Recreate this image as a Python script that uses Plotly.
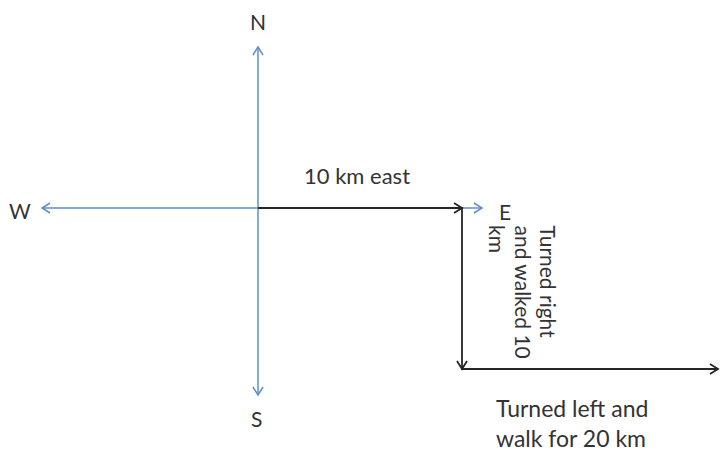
import math
import plotly.graph_objects as go

# ---- data (diagram coordinates, pixel-like units, y grows downward) ----
compass_labels = ["N", "S", "W", "E"]
compass_x = [258, 256, 20, 505]
compass_y = [21, 418, 210, 211]

ns_axis_x = [258, 258]
ns_axis_y = [47, 395]
we_axis_x = [42, 482]
we_axis_y = [208, 208]

path_x = [258, 462, 462, 718]
path_y = [208, 208, 369, 369]

east_label = "10 km east"
right_turn_lines = ["Turned right", "and walked 10", "km"]
left_turn_label = "Turned left and<br>walk for 20 km"

BLUE = "#5E8FC9"
BLACK = "#262626"
TEXT = "#333333"
FONT = "Lato"

fig = go.Figure()


def chevron(x0, y0, x1, y1, length=8, half=5):
    dx, dy = x1 - x0, y1 - y0
    d = math.hypot(dx, dy)
    ux, uy = dx / d, dy / d
    px, py = -uy, ux
    bx, by = x1 - ux * length, y1 - uy * length
    return ([bx + px * half, x1, bx - px * half], [by + py * half, y1, by - py * half])


def add_line(xs, ys, color, width):
    fig.add_trace(go.Scatter(x=xs, y=ys, mode="lines",
                             line=dict(color=color, width=width),
                             hoverinfo="skip", showlegend=False))


# compass axes (double-headed)
for xs, ys in [(ns_axis_x, ns_axis_y), (we_axis_x, we_axis_y)]:
    add_line(xs, ys, BLUE, 1.5)
    cx, cy = chevron(xs[0], ys[0], xs[1], ys[1])
    add_line(cx, cy, BLUE, 1.5)
    cx, cy = chevron(xs[1], ys[1], xs[0], ys[0])
    add_line(cx, cy, BLUE, 1.5)

# walking path
add_line(path_x, path_y, BLACK, 1.8)
for i in range(len(path_x) - 1):
    cx, cy = chevron(path_x[i], path_y[i], path_x[i + 1], path_y[i + 1])
    add_line(cx, cy, BLACK, 1.8)

# compass labels
for lab, x, y in zip(compass_labels, compass_x, compass_y):
    fig.add_annotation(x=x, y=y, text=lab, showarrow=False,
                       font=dict(family=FONT, size=21, color=TEXT),
                       xanchor="center", yanchor="middle")

# leg labels
fig.add_annotation(x=357, y=175, text=east_label, showarrow=False,
                   font=dict(family=FONT, size=22, color=TEXT),
                   xanchor="center", yanchor="middle")
for i, line in enumerate(right_turn_lines):
    fig.add_annotation(x=548 - 25 * i, y=223, text=line, showarrow=False,
                       textangle=90,
                       font=dict(family=FONT, size=21, color=TEXT),
                       xanchor="center", yanchor="top")
fig.add_annotation(x=494, y=423, text=left_turn_label, showarrow=False,
                   align="left",
                   font=dict(family=FONT, size=23, color=TEXT),
                   xanchor="left", yanchor="middle")

fig.update_layout(
    width=720, height=452,
    margin=dict(l=0, r=0, t=0, b=0),
    paper_bgcolor="white", plot_bgcolor="white",
    xaxis=dict(range=[0, 720], visible=False, fixedrange=True),
    yaxis=dict(range=[452, 0], visible=False, fixedrange=True),
)

fig.write_html("out.html",
               config={"displayModeBar": False},
               post_script="document.body.style.margin='0';document.body.style.overflow='hidden';")
